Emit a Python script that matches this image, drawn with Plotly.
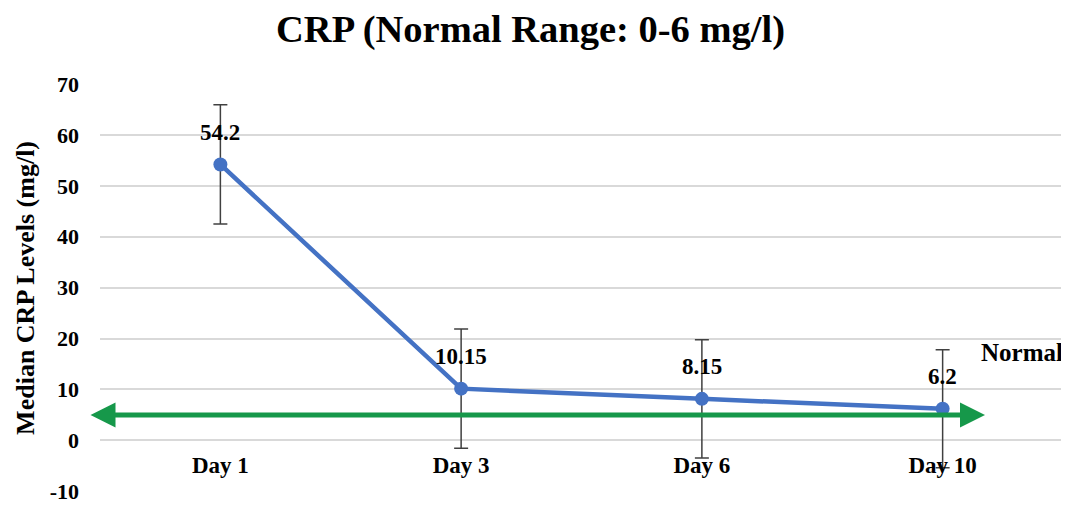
import plotly.graph_objects as go

days = ["Day 1", "Day 3", "Day 6", "Day 10"]
median_crp = [54.2, 10.15, 8.15, 6.2]
error_crp = [11.7, 11.7, 11.6, 11.6]
y_ticks = [-10, 0, 10, 20, 30, 40, 50, 60, 70]
normal_level = 5

FONT = "Liberation Serif"
BLUE = "#4472C4"
GREEN = "#16984A"

fig = go.Figure()
fig.add_trace(go.Scatter(
    x=days, y=median_crp,
    mode="lines+markers",
    line=dict(color=BLUE, width=4.5),
    marker=dict(color=BLUE, size=14),
    error_y=dict(type="data", array=error_crp, visible=True,
                 color="#404040", thickness=1.5, width=7),
    showlegend=False,
    cliponaxis=False,
))

for d, v in zip(days, median_crp):
    fig.add_annotation(x=d, y=v, text=f"<b>{v:g}</b>", showarrow=False,
                       yshift=32, font=dict(family=FONT, size=23, color="black"))

# normal-level double arrow
fig.add_annotation(xref="paper", yref="y", x=0.919, y=normal_level,
                   ax=-896, ay=0, axref="pixel", ayref="pixel",
                   showarrow=True, arrowside="end+start", arrowhead=2,
                   arrowsize=1, arrowwidth=5, arrowcolor=GREEN, text="")
fig.add_annotation(xref="paper", yref="y", x=1.002, y=17.2, text="<b>Normal</b>",
                   xanchor="right", yanchor="middle",
                   showarrow=False, font=dict(family=FONT, size=25, color="black"))

# y-axis title
fig.add_annotation(xref="paper", yref="paper", x=-0.078, y=0.5, textangle=-90,
                   xanchor="center", yanchor="middle",
                   text="<b>Median CRP Levels (mg/l)</b>", showarrow=False,
                   font=dict(family=FONT, size=26, color="black"))

fig.update_layout(
    width=1061, height=492,
    margin=dict(l=92, r=6, t=76, b=8, autoexpand=False),
    paper_bgcolor="white", plot_bgcolor="white",
    title=dict(text="<b>CRP (Normal Range: 0-6 mg/l)</b>", x=0.4925, xanchor="center",
               y=0.9587, yanchor="middle", xref="container",
               font=dict(family=FONT, size=38.5, color="black")),
    xaxis=dict(type="category", range=[-0.5, 3.5], showgrid=False, zeroline=False,
               showline=False, anchor="free", position=(0 - (-10.15)) / 80.15,
               automargin=False,
               tickfont=dict(family=FONT, size=23, color="black"),
               ticks="", ticklabelstandoff=9,
               tickvals=days, ticktext=[f"<b>{d}</b>" for d in days]),
    yaxis=dict(range=[-10.15, 70], tickvals=y_ticks,
               ticktext=[f"<b>{t}</b>" for t in y_ticks],
               showgrid=True, gridcolor="#D9D9D9", gridwidth=1.5,
               zeroline=False, showline=False, ticks="", automargin=False,
               ticklabelstandoff=20, ticklabeloverflow="allow",
               tickfont=dict(family=FONT, size=22, color="black")),
)

fig.write_html("out.html")
